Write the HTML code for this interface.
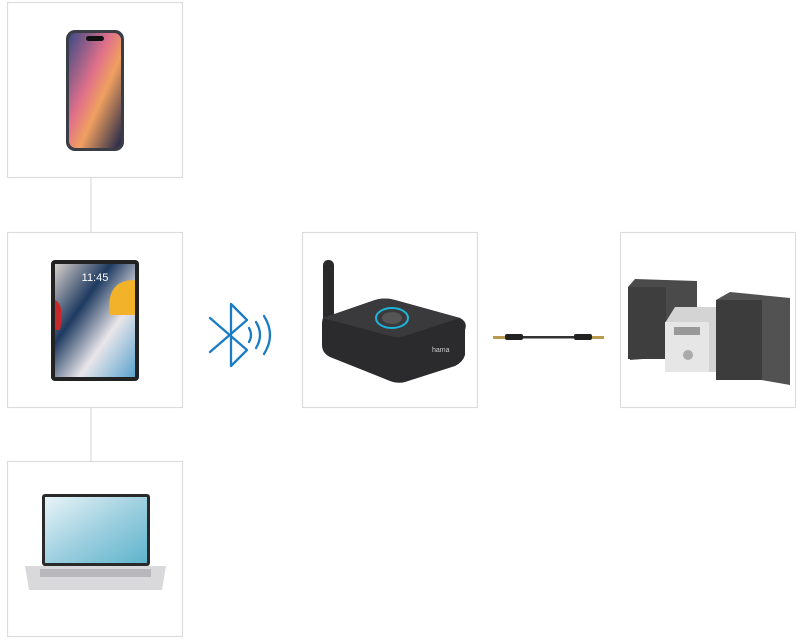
<!DOCTYPE html>
<html><head><meta charset="utf-8"><style>
html,body{margin:0;padding:0;background:#fff;}
svg{display:block;}
</style></head><body>
<svg width="800" height="642" viewBox="0 0 800 642" xmlns="http://www.w3.org/2000/svg">
<defs>
<linearGradient id="ph" x1="0" y1="0" x2="1" y2="1">
<stop offset="0" stop-color="#3b4a86"/><stop offset="0.4" stop-color="#e0708a"/><stop offset="0.6" stop-color="#f0a060"/><stop offset="1" stop-color="#1d2448"/></linearGradient>
<linearGradient id="pd" x1="0" y1="0" x2="1" y2="1">
<stop offset="0" stop-color="#d8d0cc"/><stop offset="0.35" stop-color="#1e3a60"/><stop offset="0.65" stop-color="#e9e6ea"/><stop offset="1" stop-color="#5aa3cf"/></linearGradient>
<linearGradient id="lp" x1="0" y1="0" x2="1" y2="1">
<stop offset="0" stop-color="#e8f4f8"/><stop offset="0.5" stop-color="#9fd0e0"/><stop offset="1" stop-color="#5eb4cc"/></linearGradient>
</defs>
<g fill="none" stroke="#dcdcdc" stroke-width="1.2">
<rect x="7.5" y="2.5" width="175" height="175"/>
<rect x="7.5" y="232.5" width="175" height="175"/>
<rect x="7.5" y="461.5" width="175" height="175"/>
<rect x="302.5" y="232.5" width="175" height="175"/>
<rect x="620.5" y="232.5" width="175" height="175"/>
<line x1="91" y1="178" x2="91" y2="232"/>
<line x1="91" y1="408" x2="91" y2="461"/>
</g>
<!-- phone -->
<rect x="66" y="30" width="58" height="121" rx="9" fill="#3a3d45"/>
<rect x="69" y="33" width="52" height="115" rx="7" fill="url(#ph)"/>
<rect x="86" y="36" width="18" height="5" rx="2.5" fill="#111"/>
<!-- ipad -->
<rect x="51" y="260" width="88" height="121" rx="4" fill="#222"/>
<rect x="55" y="264" width="80" height="113" fill="url(#pd)"/>
<path d="M55 300 q10 5 5 30 l-5 0z" fill="#c8282a"/>
<path d="M135 280 q-30 0 -25 35 l25 0z" fill="#f2b32a"/>
<text x="95" y="281" font-family="Liberation Sans, sans-serif" font-size="11" fill="#fff" text-anchor="middle">11:45</text>
<!-- laptop -->
<rect x="42" y="494" width="108" height="72" rx="3" fill="#2a2a2a"/>
<rect x="45" y="497" width="102" height="66" fill="url(#lp)"/>
<path d="M25 566 h141 l-4 24 h-133z" fill="#d9d9dc"/>
<rect x="40" y="569" width="111" height="8" fill="#b8b8bc"/>
<!-- bluetooth -->
<g fill="none" stroke="#1a7cc4" stroke-width="2.3" stroke-linecap="round" stroke-linejoin="round">
<path d="M210 318 L247 350 L231 366 L231 304 L247 320 L210 352"/>
<path d="M249 328 q4 7 0 14"/>
<path d="M256 322 q8 13 0 26"/>
<path d="M264 316 q12 19 0 38"/>
</g>
<!-- receiver -->
<rect x="323" y="260" width="11" height="62" rx="5" fill="#2a2a2a"/>
<path d="M323 318 L375 300 Q385 297 395 300 L460 318 Q468 322 465 330 L465 355 Q463 362 455 366 L405 382 Q398 384 390 381 L330 357 Q322 353 322 345 L322 325 Q322 320 323 318z" fill="#2b2b2d"/>
<path d="M323 318 L375 300 Q385 297 395 300 L460 318 L405 336 Q398 338 390 336z" fill="#3a3a3d"/>
<ellipse cx="392" cy="318" rx="16" ry="10" fill="none" stroke="#1eb4d8" stroke-width="2"/>
<ellipse cx="392" cy="318" rx="10" ry="6" fill="#555"/>
<text x="432" y="352" font-family="Liberation Sans, sans-serif" font-size="7" fill="#ccc">hama</text>
<!-- cable -->
<rect x="493" y="336" width="12" height="3" fill="#b89a50"/>
<rect x="505" y="334" width="18" height="6" rx="2" fill="#222"/>
<rect x="523" y="336" width="51" height="2.5" fill="#333"/>
<rect x="574" y="334" width="18" height="6" rx="2" fill="#222"/>
<rect x="592" y="336" width="12" height="3" fill="#b89a50"/>
<!-- stereo -->
<path d="M628 287 L635 279 L697 281 L697 355 L630 360z" fill="#4a4a4a"/>
<rect x="628" y="287" width="38" height="72" fill="#3e3e3e"/>
<path d="M665 323 L675 307 L718 307 L718 372 L665 372z" fill="#d4d4d4"/>
<rect x="665" y="322" width="44" height="50" fill="#e6e6e6"/>
<rect x="674" y="327" width="26" height="8" fill="#999"/>
<circle cx="688" cy="355" r="5" fill="#aaa"/>
<path d="M716 300 L730 292 L790 298 L790 385 L716 372z" fill="#525252"/>
<rect x="716" y="300" width="46" height="80" fill="#3c3c3c"/>
</svg>
</body></html>
